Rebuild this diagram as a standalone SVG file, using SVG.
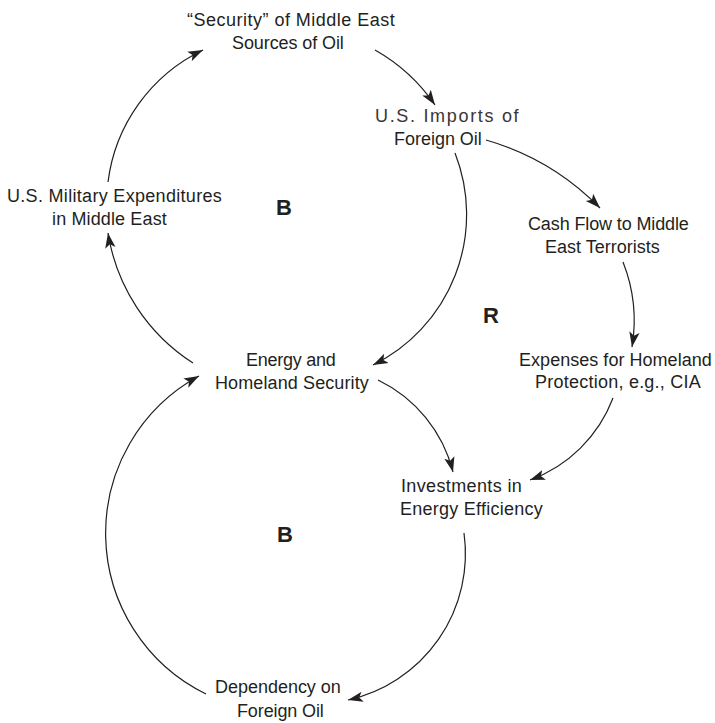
<svg xmlns="http://www.w3.org/2000/svg" width="715" height="723" viewBox="0 0 715 723">
<defs>
<style>
.lbl{font-family:"Liberation Sans Narrow","Liberation Sans",Arial,sans-serif;font-size:18px;fill:#231f20;text-anchor:middle;letter-spacing:1.2px}
.hand{font-family:"Liberation Sans Narrow","Liberation Sans",sans-serif;font-size:18px;fill:#3a3536;text-anchor:middle;letter-spacing:1.4px}
.loop{font-family:"Liberation Sans Narrow","Liberation Sans",Arial,sans-serif;font-size:22px;font-weight:bold;fill:#231f20;text-anchor:middle}
.link{fill:none;stroke:#231f20;stroke-width:1.2;marker-end:url(#arr)}
</style>
<marker id="arr" markerUnits="userSpaceOnUse" markerWidth="16" markerHeight="12" viewBox="0 0 16 12" refX="15" refY="6" orient="auto">
<path d="M0,0.8 L15,6 L0,11.2 L3.5,6 z" fill="#231f20"/>
</marker>
</defs>
<rect width="715" height="723" fill="#ffffff"/>
<g id="connectors">
<path class="link" d="M108,182 A170,170 0 0 1 203,50"/>
<path class="link" d="M375,50 A180,180 0 0 1 435,105"/>
<path class="link" d="M455,153 A168,168 0 0 1 373,365"/>
<path class="link" d="M193,363 A190,190 0 0 1 108,233"/>
<path class="link" d="M378,380 A140,140 0 0 1 453,472"/>
<path class="link" d="M464,533 A150,150 0 0 1 348,700"/>
<path class="link" d="M206,694 A179,179 0 0 1 199,376"/>
<path class="link" d="M486,140 A260,260 0 0 1 600,208"/>
<path class="link" d="M623,262 A160,160 0 0 1 632,347"/>
<path class="link" d="M613,398 A140,140 0 0 1 530,480"/>
</g>
<g id="security">
<text class="lbl" x="291.5" y="26" textLength="209" lengthAdjust="spacing">“Security” of Middle East</text>
<text class="lbl" x="288.5" y="49" textLength="113" lengthAdjust="spacing">Sources of Oil</text>
</g>
<g id="imports">
<text class="hand" x="447.5" y="122" textLength="145" lengthAdjust="spacing">U.S. Imports of</text>
<text class="lbl" x="438.5" y="145" textLength="89" lengthAdjust="spacing">Foreign Oil</text>
</g>
<g id="cashflow">
<text class="lbl" x="609" y="230" textLength="162" lengthAdjust="spacing">Cash Flow to Middle</text>
<text class="lbl" x="603" y="253" textLength="116" lengthAdjust="spacing">East Terrorists</text>
</g>
<g id="military">
<text class="lbl" x="115" y="202" textLength="216" lengthAdjust="spacing">U.S. Military Expenditures</text>
<text class="lbl" x="110" y="225" textLength="116" lengthAdjust="spacing">in Middle East</text>
</g>
<g id="energy">
<text class="lbl" x="291.5" y="366" textLength="91" lengthAdjust="spacing">Energy and</text>
<text class="lbl" x="292.5" y="389" textLength="155" lengthAdjust="spacing">Homeland Security</text>
</g>
<g id="expenses">
<text class="lbl" x="616" y="366" textLength="194" lengthAdjust="spacing">Expenses for Homeland</text>
<text class="lbl" x="618.5" y="388" textLength="167" lengthAdjust="spacing">Protection, e.g., CIA</text>
</g>
<g id="investments">
<text class="lbl" x="462" y="492" textLength="122" lengthAdjust="spacing">Investments in</text>
<text class="lbl" x="472" y="515" textLength="144" lengthAdjust="spacing">Energy Efficiency</text>
</g>
<g id="dependency">
<text class="lbl" x="278.5" y="693" textLength="127" lengthAdjust="spacing">Dependency on</text>
<text class="lbl" x="281" y="717" textLength="88" lengthAdjust="spacing">Foreign Oil</text>
</g>
<g id="loop-labels">
<text class="loop" x="284" y="215">B</text>
<text class="loop" x="491" y="323">R</text>
<text class="loop" x="285" y="542">B</text>
</g>
</svg>
